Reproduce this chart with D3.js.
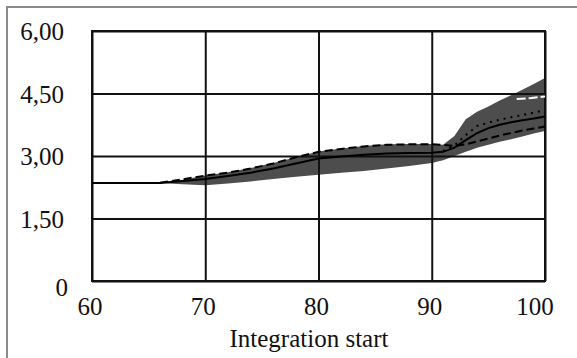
<!DOCTYPE html>
<html>
<head>
<meta charset="utf-8">
<script src="https://cdn.jsdelivr.net/npm/d3@7"></script>
<style>
  body { margin: 0; background: #fff; }
  svg { display: block; }
  .lbl { font-family: "Liberation Serif", "DejaVu Serif", serif; fill: #111; }
</style>
</head>
<body>
<figure id="chart" style="margin:0"></figure>
<script>
// values
const xTicks = [60, 70, 80, 90, 100];
const yTicks = [0, 1.5, 3, 4.5, 6];
const yTickLabels = ["0", "1,50", "3,00", "4,50", "6,00"];

const bandX    = [66, 68, 70, 72, 74, 76, 78, 80, 82, 84, 86, 88, 90, 91, 92, 93, 94, 95, 96, 97, 98, 99, 100];
const bandLow  = [2.35, 2.32, 2.30, 2.34, 2.39, 2.45, 2.50, 2.55, 2.60, 2.64, 2.70, 2.76, 2.83, 2.90, 3.00, 3.10, 3.20, 3.27, 3.34, 3.40, 3.47, 3.54, 3.60];
const bandHigh = [2.36, 2.43, 2.53, 2.61, 2.71, 2.83, 2.97, 3.11, 3.18, 3.24, 3.28, 3.29, 3.29, 3.27, 3.48, 3.88, 4.06, 4.19, 4.33, 4.46, 4.59, 4.73, 4.87];

const solidX = [60, 66, 68, 70, 72, 74, 76, 78, 80, 82, 84, 86, 88, 90, 91, 92, 93, 94, 95, 96, 97, 98, 99, 100];
const solidY = [2.35, 2.35, 2.40, 2.45, 2.52, 2.60, 2.70, 2.82, 2.94, 2.99, 3.03, 3.06, 3.07, 3.08, 3.10, 3.20, 3.38, 3.55, 3.67, 3.75, 3.81, 3.86, 3.90, 3.95];

const dashX = [66, 68, 70, 72, 74, 76, 78, 80, 82, 84, 86, 88, 90, 91, 92, 93, 94, 95, 96, 97, 98, 99, 100];
const dashY = [2.36, 2.44, 2.53, 2.60, 2.70, 2.82, 2.97, 3.10, 3.17, 3.23, 3.27, 3.28, 3.28, 3.27, 3.24, 3.28, 3.35, 3.42, 3.49, 3.55, 3.61, 3.66, 3.71];

const dotX = [91, 92, 93, 94, 95, 96, 97, 98, 99, 100];
const dotY = [3.12, 3.25, 3.50, 3.72, 3.80, 3.87, 3.93, 3.98, 4.04, 4.10];

const whiteX = [97.5, 98.8, 100];
const whiteY = [4.37, 4.39, 4.43];

const W = 577, H = 358;
const svg = d3.select("#chart").append("svg").attr("width", W).attr("height", H);

// outer frame (only top/left visible)
svg.append("rect")
  .attr("x", 7).attr("y", 7).attr("width", W + 20).attr("height", H + 20)
  .attr("fill", "none").attr("stroke", "#8a8a8a").attr("stroke-width", 2);

const x = d3.scaleLinear().domain([60, 100]).range([92, 545]);
const y = d3.scaleLinear().domain([0, 6]).range([281, 31]);

// band
const area = d3.area()
  .x((d, i) => x(bandX[i]))
  .y0((d, i) => y(bandLow[i]))
  .y1((d, i) => y(bandHigh[i]));
svg.append("path").datum(bandX).attr("d", area).attr("fill", "#4d4d4d");

// grid via axes
svg.append("g")
  .attr("transform", "translate(0,281)")
  .call(d3.axisBottom(x).tickValues(xTicks).tickSize(-250).tickFormat(""))
  .call(g => g.select(".domain").remove())
  .call(g => g.selectAll("line").attr("stroke", "#111").attr("stroke-width", 2));
svg.append("g")
  .attr("transform", "translate(92,0)")
  .call(d3.axisLeft(y).tickValues(yTicks).tickSize(-453).tickFormat(""))
  .call(g => g.select(".domain").remove())
  .call(g => g.selectAll("line").attr("stroke", "#111").attr("stroke-width", 2));
svg.append("rect")
  .attr("x", 92).attr("y", 31).attr("width", 453).attr("height", 250)
  .attr("fill", "none").attr("stroke", "#111").attr("stroke-width", 2);

function line(xs, ys) {
  return d3.line().x((d, i) => x(xs[i])).y((d, i) => y(ys[i]))(xs);
}
svg.append("path").attr("d", line(dashX, dashY))
  .attr("fill", "none").attr("stroke", "#000").attr("stroke-width", 2).attr("stroke-dasharray", "8,4");
svg.append("path").attr("d", line(dotX, dotY))
  .attr("fill", "none").attr("stroke", "#000").attr("stroke-width", 2).attr("stroke-dasharray", "2,5");
svg.append("path").attr("d", line(whiteX, whiteY))
  .attr("fill", "none").attr("stroke", "#fff").attr("stroke-width", 2).attr("stroke-dasharray", "9,3");
svg.append("path").attr("d", line(solidX, solidY))
  .attr("fill", "none").attr("stroke", "#000").attr("stroke-width", 2);

// tick labels
svg.selectAll(".ylab").data(yTicks).enter().append("text")
  .attr("class", "lbl")
  .attr("x", (d, i) => i === 0 ? 68 : 64)
  .attr("y", (d, i) => y(d) + (i === 0 ? 15 : 9))
  .attr("text-anchor", "end")
  .style("font-size", "25px")
  .text((d, i) => yTickLabels[i]);

svg.selectAll(".xlab").data(xTicks).enter().append("text")
  .attr("class", "lbl")
  .attr("x", d => d === 100 ? x(d) - 10 : x(d) - 2)
  .attr("y", 315)
  .attr("text-anchor", "middle")
  .style("font-size", "25px")
  .text(d => d);

svg.append("text")
  .attr("class", "lbl")
  .attr("x", 309).attr("y", 347)
  .attr("text-anchor", "middle")
  .style("font-size", "25px")
  .text("Integration start");
</script>
</body>
</html>
